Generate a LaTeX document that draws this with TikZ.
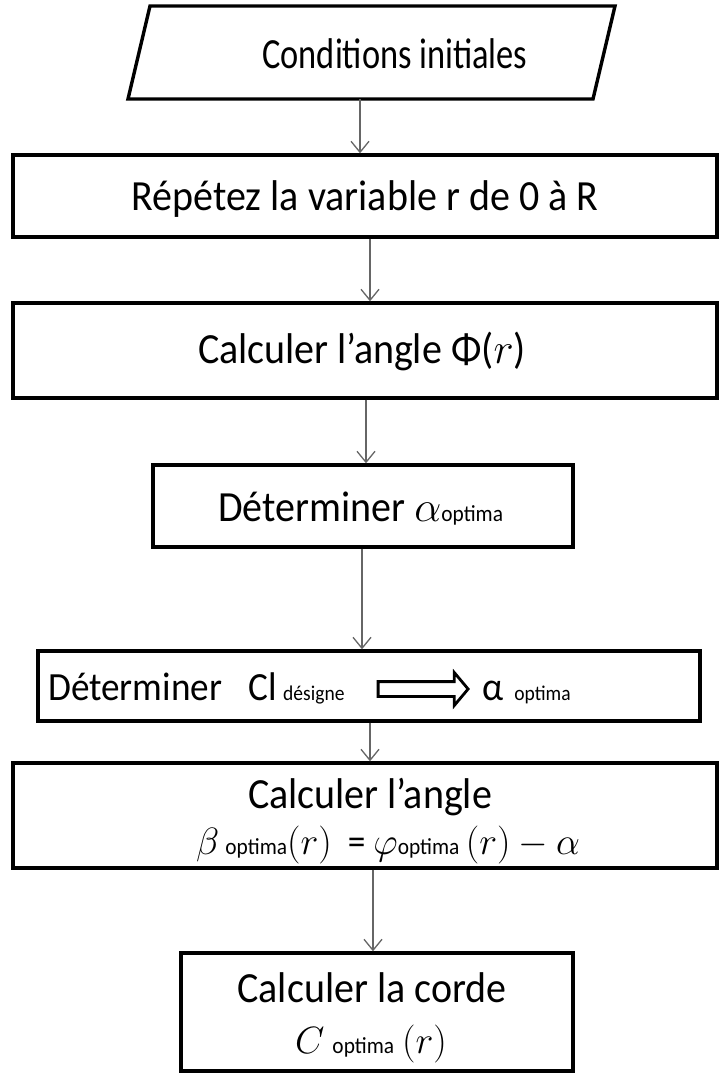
\RequirePackage{fix-cm}
\documentclass[tikz,border=0pt]{standalone}
\usepackage{graphicx}
\usepackage{fontspec}
\setmainfont{Carlito}[FakeStretch=0.93]
\usetikzlibrary{arrows.meta,shapes.arrows}
\newcommand{\opt}[1]{{\fontsize{23}{23}\selectfont #1}}
\newcommand{\optsm}[1]{{\fontsize{21}{21}\selectfont #1}}
\begin{document}
\begin{tikzpicture}[x=1pt,y=-1pt,
  box/.style={draw=black, line width=3.4pt, inner sep=0pt, fill=white},
  txt/.style={font=\fontsize{43}{50}\selectfont, inner sep=0pt, anchor=base},
  txtf/.style={font=\fontsize{38}{44}\selectfont, inner sep=0pt, anchor=base},
  txtm/.style={font=\fontsize{40}{44}\selectfont, inner sep=0pt, anchor=base west},
  arr/.style={draw=black!60, line width=1.3pt, -{Straight Barb[length=11pt,width=18pt,line width=1.3pt]}}]
\useasboundingbox (0,0) rectangle (723,1077);
% boxes
\node[inner sep=0pt, minimum width=443pt, minimum height=93pt] (n1) at (371.5,52.5) {};
\draw[line width=3.4pt, line join=miter] (150,6) -- (615,6) -- (593,99) -- (128,99) -- cycle;
\node[box, minimum width=704pt, minimum height=82pt] (n2) at (365,196) {};
\node[box, minimum width=704pt, minimum height=95pt] (n3) at (365,350.5) {};
\node[box, minimum width=420pt, minimum height=82pt] (n4) at (363,506) {};
\node[box, minimum width=662pt, minimum height=70pt] (n5) at (369,686) {};
\node[box, minimum width=704pt, minimum height=105pt] (n6) at (365,815.5) {};
\node[box, minimum width=392pt, minimum height=118pt] (n7) at (377,1012) {};
% texts
\node[txt] (t1) at (395,68) {\scalebox{0.86}[1]{Conditions initiales}};
\node[txt] (t2) at (365,210) {Répétez la variable r de 0 à R};
\node[txt] (t3) at (362,363) {Calculer l’angle Φ($r$)};
\node[txt, anchor=base west] (t4) at (218,521) {Déterminer $\alpha$\opt{optima}};
\node[txtm] (t5a) at (48,700) {Déterminer};
\node[txtm] (t5b) at (248,700) {Cl\,\optsm{désigne}};
\node[single arrow, draw=black, line width=2.8pt, inner sep=6pt, single arrow head extend=9pt,
      single arrow tip angle=100, minimum height=90pt, fill=white] (ha) at (420,689) {};
\node[txtm] (t5c) at (482,700) {α\,\optsm{ optima}};
\node[txt] (t6a) at (370,808) {Calculer l’angle};
\node[txtf] (t6b) at (388,854) {$\beta$\,\opt{optima}$(r)$\ \ = $\varphi$\opt{optima}\,$(r)$ $-$ $\alpha$};
\node[txt] (t7a) at (372,1002) {Calculer la corde};
\node[txtf] (t7b) at (371,1053) {$C$ \opt{optima} $(r)$};
% connectors
\draw[arr] (n1.south -| 360,0) -- (n2.north -| 360,0);
\draw[arr] (n2.south -| 370,0) -- (n3.north -| 370,0);
\draw[arr] (n3.south -| 366,0) -- (n4.north -| 366,0);
\draw[arr] (n4.south -| 362,0) -- (n5.north -| 362,0);
\draw[arr] (n5.south -| 370,0) -- (n6.north -| 370,0);
\draw[arr] (n6.south -| 373,0) -- (n7.north -| 373,0);
\end{tikzpicture}
\end{document}
